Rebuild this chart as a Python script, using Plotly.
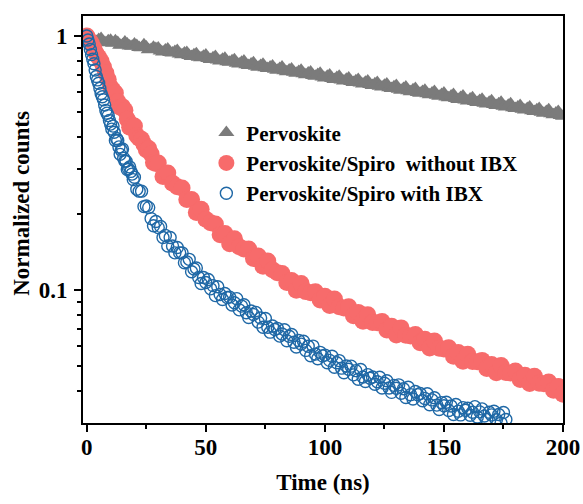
import plotly.graph_objects as go

# ---- data ----
t_perov_even = list(range(0, 201, 2))
v_perov_even = [1.000, 0.985, 0.952, 0.978, 0.941, 0.962, 0.958, 0.921, 0.947, 0.913,
                0.931, 0.902, 0.925, 0.884, 0.903, 0.897, 0.866, 0.889, 0.858, 0.878,
                0.845, 0.861, 0.830, 0.852, 0.821, 0.842, 0.809, 0.830, 0.797, 0.818,
                0.788, 0.806, 0.776, 0.797, 0.765, 0.785, 0.753, 0.774, 0.745, 0.763,
                0.734, 0.755, 0.724, 0.741, 0.714, 0.733, 0.704, 0.722, 0.695, 0.713,
                0.684, 0.703, 0.675, 0.694, 0.666, 0.683, 0.657, 0.674, 0.648, 0.665,
                0.638, 0.656, 0.630, 0.647, 0.621, 0.638, 0.612, 0.630, 0.604, 0.621,
                0.595, 0.612, 0.587, 0.605, 0.579, 0.596, 0.571, 0.588, 0.563, 0.580,
                0.555, 0.572, 0.548, 0.564, 0.540, 0.556, 0.533, 0.549, 0.525, 0.541,
                0.518, 0.533, 0.511, 0.526, 0.504, 0.519, 0.497, 0.512, 0.490, 0.505,
                0.483]
t_perov_odd = list(range(1, 200, 2))
v_perov_odd = [0.990, 0.962, 0.970, 0.950, 0.958, 0.937, 0.944, 0.925, 0.931, 0.911,
               0.918, 0.899, 0.905, 0.886, 0.893, 0.874, 0.881, 0.862, 0.869, 0.850,
               0.857, 0.838, 0.845, 0.826, 0.833, 0.815, 0.821, 0.804, 0.810, 0.793,
               0.799, 0.782, 0.788, 0.771, 0.777, 0.760, 0.766, 0.750, 0.755, 0.740,
               0.745, 0.730, 0.735, 0.720, 0.725, 0.710, 0.715, 0.700, 0.705, 0.690,
               0.695, 0.681, 0.686, 0.671, 0.676, 0.662, 0.667, 0.653, 0.658, 0.644,
               0.649, 0.635, 0.640, 0.626, 0.631, 0.617, 0.622, 0.609, 0.614, 0.600,
               0.605, 0.592, 0.597, 0.584, 0.589, 0.576, 0.581, 0.568, 0.573, 0.560,
               0.565, 0.552, 0.557, 0.544, 0.549, 0.537, 0.541, 0.529, 0.534, 0.522,
               0.526, 0.515, 0.519, 0.508, 0.512, 0.501, 0.505, 0.494, 0.498, 0.487]

t_without = (list(range(0, 30)) + list(range(30, 201, 2)))
v_without = [1.000, 0.965, 0.935, 0.893, 0.852, 0.826, 0.795, 0.755, 0.716, 0.675,
             0.630, 0.611, 0.597, 0.552, 0.524, 0.527, 0.510, 0.470, 0.437, 0.446,
             0.442, 0.406, 0.396, 0.392, 0.375, 0.357, 0.361, 0.343, 0.318, 0.315,
             0.316, 0.280, 0.289, 0.263, 0.255, 0.252, 0.227, 0.227, 0.202, 0.208,
             0.190, 0.184, 0.182, 0.165, 0.167, 0.152, 0.159, 0.148, 0.145, 0.145,
             0.133, 0.136, 0.124, 0.130, 0.120, 0.117, 0.116, 0.107, 0.109, 0.0998,
             0.106, 0.0985, 0.0975, 0.0984, 0.0912, 0.0944, 0.0869, 0.0921, 0.0859, 0.0850,
             0.0858, 0.0792, 0.0816, 0.0753, 0.0799, 0.0745, 0.0742, 0.0752, 0.0695, 0.0719,
             0.0665, 0.0709, 0.0663, 0.0659, 0.0667, 0.0619, 0.0640, 0.0591, 0.0630, 0.0589,
             0.0585, 0.0592, 0.0548, 0.0567, 0.0524, 0.0558, 0.0523, 0.0521, 0.0528, 0.0491,
             0.0509, 0.0472, 0.0504, 0.0473, 0.0471, 0.0479, 0.0444, 0.0461, 0.0428, 0.0457,
             0.0429, 0.0427, 0.0434, 0.0403, 0.0417, 0.0388]

t_with = [0, 0.5, 1, 1.5, 2, 2.5, 3, 3.5, 4, 4.5, 5, 5.5, 6, 6.5, 7, 7.5, 8, 8.5, 9, 9.5,
          10, 10.5, 11, 11.5, 12, 12.5, 13, 13.5, 14, 14.5, 15, 15.5, 16, 16.5, 17, 17.5,
          18, 18.5, 19, 19.5] + list(range(20, 177))
v_with = [1.000, 0.965, 0.930, 0.885, 0.845, 0.810, 0.778, 0.735, 0.693, 0.672,
          0.652, 0.622, 0.594, 0.577, 0.561, 0.535, 0.509, 0.497, 0.486, 0.465,
          0.450, 0.430, 0.442, 0.418, 0.388, 0.395, 0.388, 0.366, 0.342, 0.355,
          0.359, 0.330, 0.322, 0.321, 0.298, 0.300, 0.305, 0.293, 0.286, 0.272,
          0.278, 0.249, 0.245, 0.245, 0.213, 0.214, 0.211, 0.191, 0.179, 0.186,
          0.176, 0.178, 0.161, 0.164, 0.149, 0.161, 0.149, 0.140, 0.147, 0.140,
          0.140, 0.128, 0.129, 0.132, 0.118, 0.121, 0.122, 0.112, 0.106, 0.112,
          0.107, 0.110, 0.101, 0.104, 0.095, 0.103, 0.096, 0.0917, 0.0968, 0.0934,
          0.0937, 0.0873, 0.0890, 0.0924, 0.0835, 0.0864, 0.0874, 0.0813, 0.0779, 0.0826,
          0.0800, 0.0816, 0.0747, 0.0775, 0.0713, 0.0772, 0.0713, 0.0682, 0.0721, 0.0699,
          0.0706, 0.0658, 0.0671, 0.0697, 0.0631, 0.0657, 0.0668, 0.0622, 0.0596, 0.0632,
          0.0612, 0.0628, 0.0578, 0.0600, 0.0551, 0.0601, 0.0559, 0.0536, 0.0568, 0.0550,
          0.0554, 0.0517, 0.0528, 0.0548, 0.0496, 0.0517, 0.0527, 0.0492, 0.0472, 0.0502,
          0.0487, 0.0501, 0.0463, 0.0481, 0.0445, 0.0486, 0.0454, 0.0436, 0.0464, 0.0449,
          0.0454, 0.0425, 0.0435, 0.0453, 0.0411, 0.0429, 0.0439, 0.0411, 0.0395, 0.0421,
          0.0410, 0.0423, 0.0392, 0.0408, 0.0377, 0.0414, 0.0387, 0.0372, 0.0398, 0.0387,
          0.0391, 0.0366, 0.0374, 0.0390, 0.0353, 0.0369, 0.0376, 0.0352, 0.0338, 0.0360,
          0.0350, 0.0361, 0.0335, 0.0349, 0.0323, 0.0354, 0.0333, 0.0322, 0.0344, 0.0336,
          0.0342, 0.0321, 0.0330, 0.0347, 0.0316, 0.0331, 0.0340, 0.0319, 0.0309, 0.0330,
          0.0322, 0.0333, 0.0308, 0.0323, 0.0299, 0.0329, 0.0309]

names = ["Pervoskite", "Pervoskite/Spiro  without IBX", "Pervoskite/Spiro with IBX"]
x_major = [0, 50, 100, 150, 200]
x_minor = [25, 75, 125, 175]
y_major = [0.1, 1]
y_major_text = ["0.1", "1"]
y_minor = [0.04, 0.05, 0.06, 0.07, 0.08, 0.09, 0.2, 0.3, 0.4, 0.5, 0.6, 0.7, 0.8, 0.9]

FONT = "Times New Roman, Liberation Serif, serif"
FS = 23

fig = go.Figure()
fig.add_trace(go.Scatter(x=t_perov_even + t_perov_odd, y=v_perov_even + v_perov_odd,
                         mode="markers", name=names[0],
                         marker=dict(symbol="triangle-up", size=14, color="#7b7b7b",
                                     line=dict(width=0))))
fig.add_trace(go.Scatter(x=t_without, y=v_without, mode="markers", name=names[1],
                         marker=dict(symbol="circle", size=17, color="#f76b6b",
                                     line=dict(width=0))))
fig.add_trace(go.Scatter(x=t_with, y=v_with, mode="markers", name=names[2],
                         marker=dict(symbol="circle-open", size=12, color="#1f68a6",
                                     line=dict(width=1.4))))

axis_common = dict(showline=True, linecolor="black", linewidth=2, mirror=True,
                   showgrid=False, zeroline=False, ticks="outside", ticklen=7,
                   tickwidth=2, tickcolor="black", automargin=False,
                   tickfont=dict(family=FONT, size=FS, color="black", weight="bold"))

fig.update_xaxes(range=[-1.6, 200], tickvals=x_major, ticklabelstandoff=-5,
                 minor=dict(tickvals=x_minor, ticks="outside", ticklen=4,
                            tickwidth=2, tickcolor="black"),
                 title=dict(text="Time (ns)", standoff=15,
                            font=dict(family=FONT, size=FS, color="black", weight="bold")),
                 **axis_common)
fig.update_yaxes(type="log", range=[-1.524, 0.079], tickvals=y_major, ticktext=y_major_text,
                 ticklabelstandoff=2,
                 minor=dict(tickvals=y_minor, ticks="outside", ticklen=4,
                            tickwidth=2, tickcolor="black"),
                 **axis_common)

fig.add_annotation(text="Normalized counts", textangle=-90, xref="paper", yref="paper",
                   x=-0.128, y=0.54, xanchor="center", yanchor="middle", showarrow=False,
                   font=dict(family=FONT, size=FS, color="black", weight="bold"))

fig.update_layout(
    width=583, height=504,
    margin=dict(l=83, r=20, t=16, b=81),
    paper_bgcolor="white", plot_bgcolor="white",
    legend=dict(x=0.257, y=0.763, xanchor="left", yanchor="top",
                bgcolor="rgba(0,0,0,0)", borderwidth=0,
                font=dict(family=FONT, size=21, color="black", weight="bold")),
)

fig.write_html("out.html", config={"displayModeBar": False},
               post_script="document.body.style.margin='0';")
